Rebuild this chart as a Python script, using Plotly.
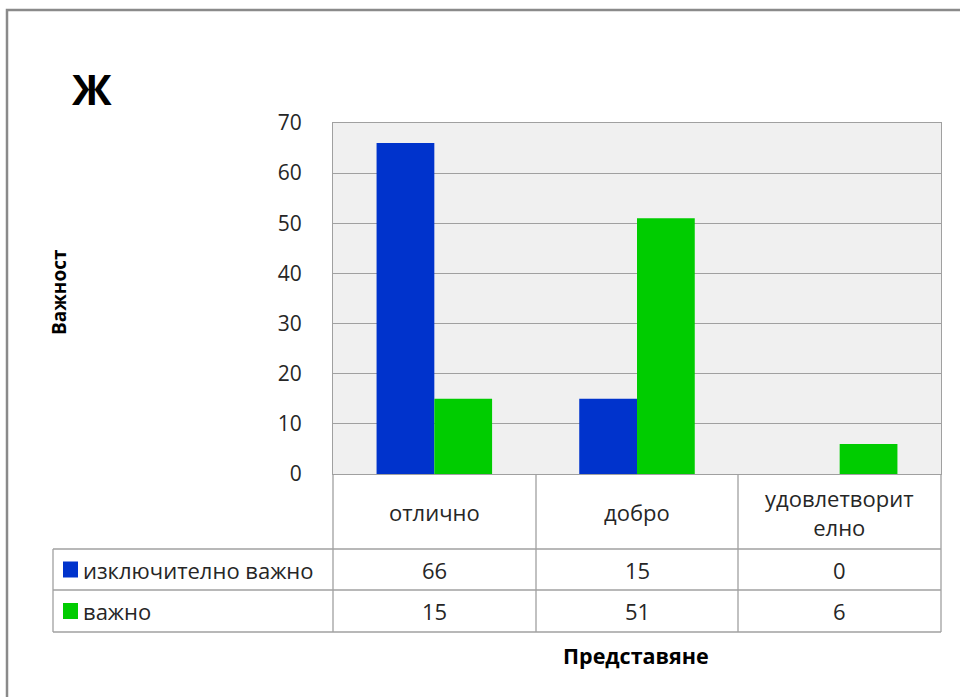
import plotly.graph_objects as go

# Survey results: importance vs. performance
categories = ["отлично", "добро", "удовлетворително"]
category_labels = ["отлично", "добро", "удовлетворит<br>елно"]
series_names = ["изключително важно", "важно"]
very_important = [66, 15, 0]
important = [15, 51, 6]
series_values = [very_important, important]
series_colors = ["#0033CC", "#00CC00"]
y_ticks = [0, 10, 20, 30, 40, 50, 60, 70]

W, H = 960, 697
L, R, T, B = 333, 941, 123, 474  # plot area in pixels
FONT = "Open Sans"
TEXT = "#262626"
GRID = "#a0a0a0"
FS = 22


def px_x(px):
    return (px - L) / (R - L)


def px_y(py):
    return (B - py) / (B - T)


fig = go.Figure()
for name, vals, col in zip(series_names, series_values, series_colors):
    fig.add_trace(go.Bar(x=categories, y=vals, name=name, marker_color=col,
                         marker_line_width=0, showlegend=False))

shapes = []
annotations = []

# outer chart frame
shapes.append(dict(type="rect", xref="paper", yref="paper",
                   x0=px_x(7), x1=px_x(1000), y0=px_y(10), y1=px_y(760),
                   line=dict(color="#8a8a8a", width=2.5), layer="below"))

# data table grid
col_edges = [333, 536, 738, 941]
row_edges = [474, 549, 590, 632]
line = dict(color=GRID, width=1.3)
for cx in col_edges:
    shapes.append(dict(type="line", xref="paper", yref="paper",
                       x0=px_x(cx), x1=px_x(cx), y0=px_y(474), y1=px_y(632), line=line))
shapes.append(dict(type="line", xref="paper", yref="paper",
                   x0=px_x(53), x1=px_x(53), y0=px_y(549), y1=px_y(632), line=line))
for ry in row_edges[1:]:
    shapes.append(dict(type="line", xref="paper", yref="paper",
                       x0=px_x(53), x1=px_x(941), y0=px_y(ry), y1=px_y(ry), line=line))

# header row: category names
for i, lab in enumerate(category_labels):
    cx = (col_edges[i] + col_edges[i + 1]) / 2
    annotations.append(dict(xref="paper", yref="paper", x=px_x(cx), y=px_y(512),
                            text=lab, showarrow=False, xanchor="center", yanchor="middle",
                            font=dict(family=FONT, size=FS, color=TEXT)))

# series rows: legend key, name and values
for r, (name, vals, col) in enumerate(zip(series_names, series_values, series_colors)):
    cy = (row_edges[r + 1] + row_edges[r + 2]) / 2
    shapes.append(dict(type="rect", xref="paper", yref="paper",
                       x0=px_x(63), x1=px_x(78), y0=px_y(cy - 8), y1=px_y(cy + 8),
                       fillcolor=col, line=dict(width=0)))
    annotations.append(dict(xref="paper", yref="paper", x=px_x(81), y=px_y(cy),
                            text=name, showarrow=False, xanchor="left", yanchor="middle",
                            font=dict(family=FONT, size=FS, color=TEXT)))
    for i, v in enumerate(vals):
        cx = (col_edges[i] + col_edges[i + 1]) / 2
        annotations.append(dict(xref="paper", yref="paper", x=px_x(cx), y=px_y(cy),
                                text=str(v), showarrow=False, xanchor="center", yanchor="middle",
                                font=dict(family=FONT, size=FS, color=TEXT)))

# titles
annotations.append(dict(xref="paper", yref="paper", x=px_x(92), y=px_y(88),
                        text="<b>Ж</b>", showarrow=False, xanchor="center", yanchor="middle",
                        font=dict(family=FONT, size=42, color="#000000")))
annotations.append(dict(xref="paper", yref="paper", x=px_x(59), y=px_y(292),
                        text="<b>Важност</b>", showarrow=False, textangle=-90,
                        xanchor="center", yanchor="middle",
                        font=dict(family=FONT, size=19, color="#000000")))
annotations.append(dict(xref="paper", yref="paper", x=px_x(636), y=px_y(655),
                        text="<b>Представяне</b>", showarrow=False,
                        xanchor="center", yanchor="middle",
                        font=dict(family=FONT, size=21.5, color="#000000")))

fig.update_layout(
    width=W, height=H,
    margin=dict(l=L, r=W - R, t=T, b=H - B, pad=0),
    paper_bgcolor="white",
    plot_bgcolor="#f0f0f0",
    barmode="group", bargap=0.43, bargroupgap=0,
    shapes=shapes, annotations=annotations,
    font=dict(family=FONT, color=TEXT),
)
fig.update_xaxes(showticklabels=False, showgrid=False, showline=True, mirror=True,
                 linecolor=GRID, linewidth=1.3, ticks="")
fig.update_yaxes(range=[0, 70], tickvals=y_ticks, showgrid=True, gridcolor=GRID,
                 gridwidth=1.3, showline=True, mirror=True, linecolor=GRID,
                 linewidth=1.3, zeroline=False, ticks="", ticklabelstandoff=26,
                 tickfont=dict(family=FONT, size=21, color=TEXT))

fig.write_html("out.html")
